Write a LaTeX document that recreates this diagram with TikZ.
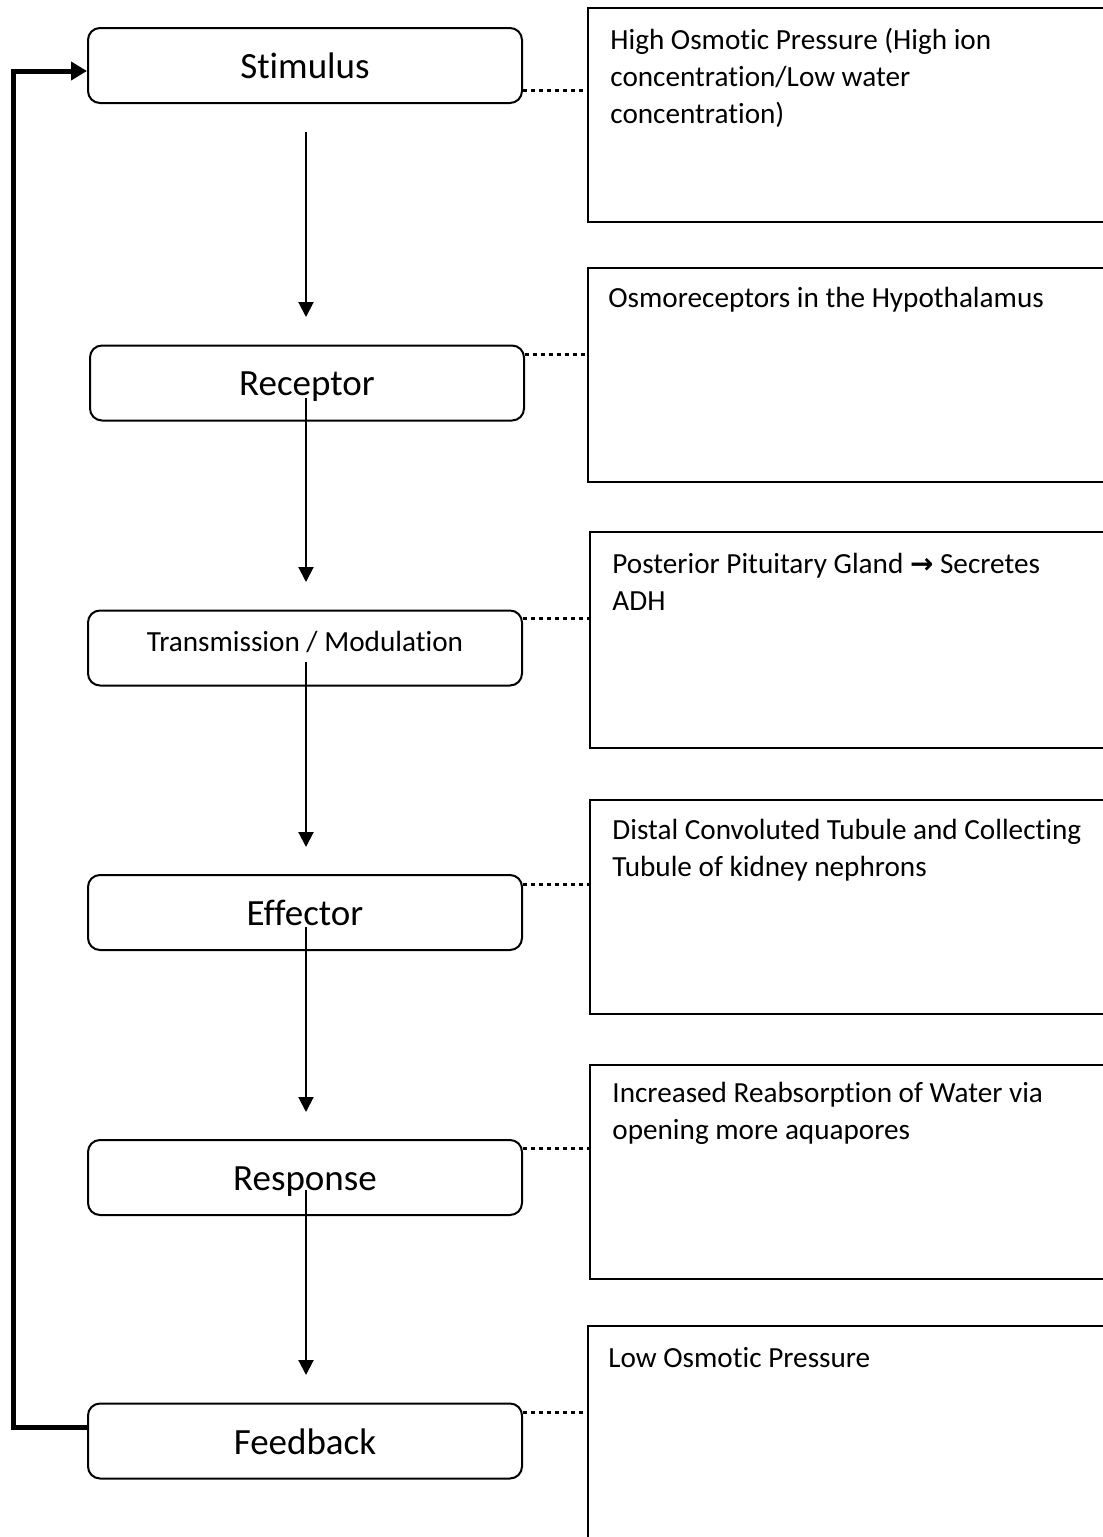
\documentclass[tikz,border=0pt]{standalone}
\usepackage{fontspec}
\setmainfont{Carlito}[Ligatures=NoCommon]
\newfontfamily\arrowfont{DejaVu Sans}
\usetikzlibrary{arrows.meta}
\begin{document}
\begin{tikzpicture}[x=0.5pt,y=-0.5pt,
  lbox/.style={draw, line width=1pt, rounded corners=6pt, minimum width=217pt, minimum height=37.5pt, inner sep=0pt},
  rbox/.style={draw, line width=1pt, inner sep=0pt, minimum width=258pt},
  biglabel/.style={anchor=base, inner sep=0pt, font=\fontsize{18.5}{22}\selectfont},
  smalllabel/.style={anchor=base, inner sep=0pt, font=\fontsize{14.6}{18.5}\selectfont},
  rtext/.style={anchor=base west, inner sep=0pt, font=\fontsize{14.6}{18.5}\selectfont},
  varrow/.style={line width=1pt, -{Triangle[length=7.5pt,width=7.5pt]}},
  dotline/.style={line width=1.5pt, dash pattern=on 2pt off 2pt},
  loopline/.style={line width=2.5pt, line join=miter, -{Triangle[length=8pt,width=9pt]}}
]
\useasboundingbox (0,0) rectangle (1103,1537);

% left boxes
\node[lbox] (stim) at (305,65.5) {};
\node[lbox] (rec) at (307,383) {};
\node[lbox] (trans) at (305,648) {};
\node[lbox] (eff) at (305,912.5) {};
\node[lbox] (resp) at (305,1177.5) {};
\node[lbox] (fb) at (305,1441) {};

\node[biglabel] (stimL) at (305,78) {Stimulus};
\node[biglabel] (recL) at (307,395) {Receptor};
\node[smalllabel] (transL) at (305,651) {Transmission / Modulation};
\node[biglabel] (effL) at (305,925) {Effector};
\node[biglabel] (respL) at (305,1190) {Response};
\node[biglabel] (fbL) at (305,1454) {Feedback};

% right boxes
\node[rbox, minimum height=107pt] (r1) at (846,115) {};
\node[rbox, minimum height=107pt] (r2) at (845.5,375) {};
\node[rbox, minimum height=108pt] (r3) at (847.5,640) {};
\node[rbox, minimum height=107pt] (r4) at (847.5,907) {};
\node[rbox, minimum height=107pt] (r5) at (847.5,1172) {};
\node[rbox, minimum height=120pt] (r6) at (845.5,1446) {};

\node[rtext] (t1) at (610,49) {\begin{tabular}[t]{@{}l@{}}High Osmotic Pressure (High ion\\concentration/Low water\\concentration)\end{tabular}};
\node[rtext] (t2) at (608,307) {Osmoreceptors in the Hypothalamus};
\node[rtext] (t3) at (612,573) {\begin{tabular}[t]{@{}l@{}}Posterior Pituitary Gland {\arrowfont\bfseries\fontsize{14}{18.5}\selectfont →} Secretes\\ADH\end{tabular}};
\node[rtext] (t4) at (612,839) {\begin{tabular}[t]{@{}l@{}}Distal Convoluted Tubule and Collecting\\Tubule of kidney nephrons\end{tabular}};
\node[rtext] (t5) at (612,1102) {\begin{tabular}[t]{@{}l@{}}Increased Reabsorption of Water via\\opening more aquapores\end{tabular}};
\node[rtext] (t6) at (608,1367) {Low Osmotic Pressure};

% vertical arrows
\coordinate (a1s) at (306,132); \coordinate (a1e) at (306,317);
\coordinate (a2s) at (306,398); \coordinate (a2e) at (306,582);
\coordinate (a3s) at (306,662); \coordinate (a3e) at (306,847);
\coordinate (a4s) at (306,927); \coordinate (a4e) at (306,1112);
\coordinate (a5s) at (306,1190); \coordinate (a5e) at (306,1375);
\draw[varrow] (a1s) -- (a1e);
\draw[varrow] (a2s) -- (a2e);
\draw[varrow] (a3s) -- (a3e);
\draw[varrow] (a4s) -- (a4e);
\draw[varrow] (a5s) -- (a5e);

% dotted connectors
\draw[dotline] (stim.east |- 0,90) -- (r1.west |- 0,90);
\draw[dotline] (rec.east |- 0,354) -- (r2.west |- 0,354);
\draw[dotline] (trans.east |- 0,618) -- (r3.west |- 0,618);
\draw[dotline] (eff.east |- 0,884) -- (r4.west |- 0,884);
\draw[dotline] (resp.east |- 0,1148) -- (r5.west |- 0,1148);
\draw[dotline] (fb.east |- 0,1412) -- (r6.west |- 0,1412);

% feedback loop
\coordinate (loopb) at (13,1427);
\coordinate (loopt) at (13,71);
\draw[loopline] (fb.west |- loopb) -- (loopb) -- (loopt) -- (stim.west |- loopt);
\end{tikzpicture}
\end{document}
